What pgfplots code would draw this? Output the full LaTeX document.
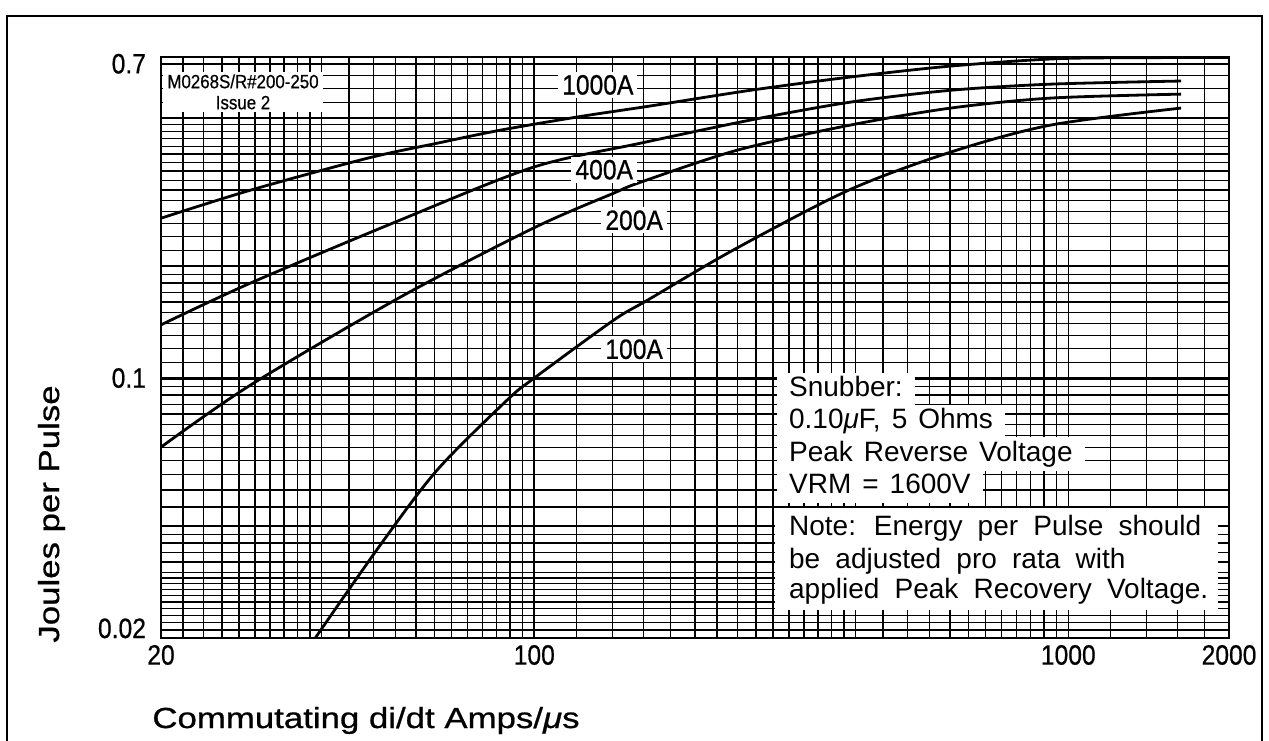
\documentclass[border=0pt]{standalone}
\usepackage{pgfplots}
\pgfplotsset{compat=1.18}
\usepackage{fontspec}
\setmainfont{Liberation Sans}
\newfontfamily\narrowfont[FakeStretch=0.88,FakeBold=0.6]{Liberation Sans}
\newfontfamily\widefont[FakeStretch=1.2,FakeBold=0.8]{Liberation Sans}
\newcommand\snubfont{\fontsize{14}{16}\selectfont\spaceskip=5.5pt plus 1pt\relax}
\newcommand\notefont{\fontsize{14}{16}\selectfont\spaceskip=7.6pt plus 1pt\relax}
\begin{document}
\begin{tikzpicture}
\useasboundingbox (0,0) rectangle (634.5pt,370pt);
\draw[line width=1.2pt] (3.5pt,-5pt) rectangle (631pt,362pt);
\begin{axis}[
  at={(80.5pt,51pt)}, anchor=south west,
  scale only axis, width=534pt, height=290.5pt,
  xmode=log, ymode=log,
  xmin=20, xmax=2000, ymin=0.02, ymax=0.73,
  xtick={20,100,1000,2000}, xticklabels={20,100,1000,2000},
  ytick={0.02,0.1,0.7}, yticklabels={\smash{0.02},0.1,0.7},
  extra y ticks={0.1}, extra y tick labels={},
  extra y tick style={major grid style={black, line width=1.5pt}},
  minor xtick={22,24,26,28,30,32,34,36,38,40,45,50,55,60,65,70,75,80,85,90,95,120,140,160,180,200,220,240,260,280,300,320,340,360,380,400,450,500,550,600,650,700,750,800,850,900,950,1200,1400,1600,1800},
  minor ytick={0.021,0.022,0.023,0.024,0.025,0.026,0.027,0.028,0.029,0.03,0.032,0.034,0.036,0.038,0.04,0.045,0.05,0.055,0.06,0.065,0.07,0.075,0.08,0.085,0.09,0.095,0.11,0.12,0.13,0.14,0.15,0.16,0.17,0.18,0.19,0.2,0.22,0.24,0.26,0.28,0.3,0.32,0.34,0.36,0.38,0.4,0.42,0.44,0.46,0.48,0.5,0.55,0.6,0.65},
  grid=both,
  major grid style={black, line width=0.8pt},
  minor grid style={black, line width=0.7pt},
  major tick length=0pt, minor tick length=0pt,
  axis line style={line width=1pt},
  tick label style={font=\narrowfont\fontsize{14}{16}\selectfont},
  yticklabel style={xshift=-4pt},
  /pgf/number format/assume math mode=true,
]
% 1000A
\addplot[black, line width=1.4pt, smooth] coordinates {
(20,0.269) (29.4,0.320) (48.7,0.390) (65.8,0.428) (86.4,0.464) (122,0.505) (165,0.539) (254,0.594) (388,0.644) (602,0.690) (948,0.722) (1428,0.727) (2000,0.728)};
% 400A
\addplot[black, line width=1.4pt, smooth] coordinates {
(20,0.139) (29.4,0.180) (56.1,0.266) (99.6,0.369) (158,0.428) (254,0.494) (391,0.552) (602,0.594) (928,0.617) (1626,0.629)};
% 200A
\addplot[black, line width=1.4pt, smooth] coordinates {
(20,0.0652) (29.4,0.0957) (56.1,0.165) (99.6,0.253) (140.7,0.314) (158,0.336) (240,0.410) (391,0.479) (602,0.532) (928,0.566) (1626,0.580)};
% 100A
\addplot[black, line width=1.4pt, smooth] coordinates {
(38.9,0.02) (51.5,0.0356) (65.8,0.0566) (89.0,0.0873) (100,0.1) (140.7,0.143) (163,0.162) (236,0.221) (388,0.320) (602,0.405) (928,0.479) (1626,0.532)};

\tikzset{curvelab/.style={fill=white, inner xsep=2pt, inner ysep=1.5pt, font=\narrowfont\fontsize{14}{16}\selectfont}}
\node[curvelab] at (rel axis cs:0.409,0.952) {1000A};
\node[curvelab] at (rel axis cs:0.415,0.806) {400A};
\node[curvelab] at (rel axis cs:0.443,0.719) {200A};
\node[curvelab] at (rel axis cs:0.443,0.497) {100A};
\node[fill=white, inner sep=0pt, minimum width=80pt, minimum height=20pt, align=center, font=\narrowfont\fontsize{9.6}{10.5}\selectfont] at (rel axis cs:0.0768,0.940) {M0268S/R\#200-250\\Issue 2};

\fill[white] (rel axis cs:0.575,0.048) rectangle (rel axis cs:0.99,0.224);
\tikzset{snub/.style={fill=white, anchor=west, inner xsep=6pt, inner ysep=1.5pt, text height=10.5pt, text depth=3.5pt, font=\snubfont}}
\tikzset{note/.style={anchor=west, inner xsep=6pt, inner ysep=1.5pt, text height=10.5pt, text depth=3.5pt, font=\notefont}}
\node[snub] at (rel axis cs:0.5765,0.4269) {Snubber:};
\node[snub] at (rel axis cs:0.5765,0.3718) {0.10{\itshape μ}F, 5 Ohms};
\node[snub] at (rel axis cs:0.5765,0.3167) {Peak Reverse Voltage};
\node[snub] at (rel axis cs:0.5765,0.2616) {VRM = 1600V};
\node[note] at (rel axis cs:0.5765,0.1893) {Note: Energy per Pulse should};
\node[note] at (rel axis cs:0.5765,0.1325) {be adjusted pro rata with};
\node[note] at (rel axis cs:0.5765,0.0809) {applied Peak Recovery Voltage.};
\end{axis}
\node[rotate=90, anchor=base west, inner sep=0pt, font=\widefont\fontsize{14.5}{17}\selectfont] at (29.5pt,48.5pt) {Joules per Pulse};
\node[anchor=base west, inner sep=0pt, font=\widefont\fontsize{14.5}{17}\selectfont] at (76pt,6pt) {Commutating di/dt Amps/{\itshape μ}s};
\end{tikzpicture}
\end{document}
